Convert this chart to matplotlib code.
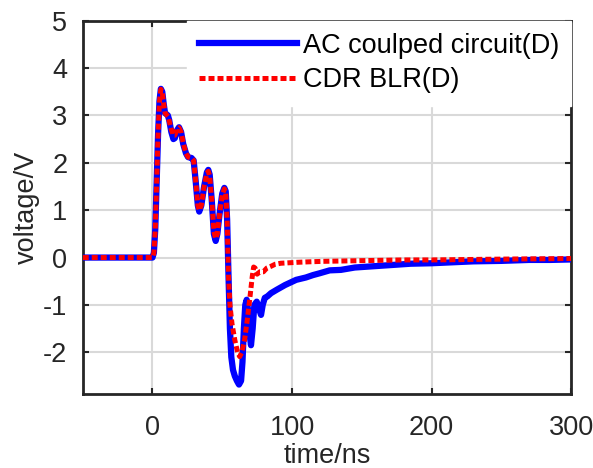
import numpy as np
import matplotlib
matplotlib.use('Agg')
import matplotlib.pyplot as plt

plt.rcParams['font.family'] = ['Liberation Sans', 'DejaVu Sans']
plt.rcParams['axes.unicode_minus'] = False

# AC coupled circuit (blue)
t_ac = [-50, 0, 1, 2, 3, 4, 5, 6, 7, 8, 9, 11, 12, 13.5, 15, 16, 17.5, 19, 20.5, 22,
        24, 25.5, 28, 29.5, 31, 32.5, 33.5, 35, 37, 39, 40, 41, 42.5, 44, 45.3, 46.5,
        48, 50, 51.5, 52.5, 53.5, 54.5, 55.5, 56.5, 57.7, 59, 60.5, 62, 63.5, 64.5,
        65.5, 66.5, 67.5, 68.5, 69.5, 70.6, 71.8, 73, 74.7, 76, 77.8, 79, 80.5, 82.3,
        85, 89, 95, 103, 110, 115, 120, 127, 135, 145, 155, 165, 175, 185, 200, 215,
        230, 250, 270, 285, 300]
v_ac = [0, 0, 0.1, 0.6, 1.6, 2.6, 3.3, 3.56, 3.5, 3.25, 3.05, 3.0, 2.9, 2.65, 2.5, 2.52,
        2.68, 2.75, 2.65, 2.4, 2.2, 2.12, 2.1, 2.05, 1.6, 1.1, 0.97, 1.1, 1.5, 1.8, 1.85,
        1.75, 1.2, 0.5, 0.35, 0.5, 0.9, 1.35, 1.47, 1.4, 0.8, -0.4, -1.5, -2.1, -2.37,
        -2.5, -2.6, -2.68, -2.6, -2.2, -1.5, -1.0, -0.89, -1.1, -1.6, -1.85, -1.5, -1.0,
        -0.93, -1.05, -1.21, -1.0, -0.85, -0.82, -0.75, -0.68, -0.58, -0.47, -0.42,
        -0.37, -0.33, -0.27, -0.26, -0.21, -0.19, -0.17, -0.15, -0.13, -0.12, -0.1,
        -0.08, -0.07, -0.05, -0.05, -0.04]

# CDR BLR (red)
t_cdr = [-50, 0, 1, 2, 3, 4, 5, 6, 7, 8, 9, 11, 12, 13.5, 15, 16, 17.5, 19, 20.5, 22,
         24, 25.5, 28, 29.5, 31, 32.5, 33.5, 35, 37, 39, 40, 41, 42.5, 44, 45.3, 46.5,
         48, 50, 51.5, 52.5, 53.5, 54.5, 55.5, 57, 59, 61, 62.5, 64, 66, 68, 70, 71.5,
         72.5, 73.5, 75, 77, 79.5, 82, 84.5, 88, 92, 98, 104, 112, 122, 140, 160, 180,
         200, 230, 260, 300]
v_cdr = [0, 0, 0.1, 0.6, 1.6, 2.6, 3.3, 3.55, 3.5, 3.25, 3.05, 2.98, 2.88, 2.7, 2.58,
         2.58, 2.7, 2.74, 2.65, 2.42, 2.2, 2.12, 2.1, 2.05, 1.6, 1.1, 1.0, 1.1, 1.5, 1.78,
         1.82, 1.72, 1.2, 0.55, 0.4, 0.5, 0.9, 1.32, 1.45, 1.38, 0.8, -0.4, -1.0, -1.4,
         -1.74, -2.0, -2.09, -2.0, -1.74, -1.3, -0.8, -0.4, -0.2, -0.22, -0.35, -0.3,
         -0.3, -0.22, -0.19, -0.14, -0.12, -0.11, -0.1, -0.09, -0.08, -0.07, -0.06,
         -0.05, -0.05, -0.04, -0.03, -0.02]

xticks = [0, 100, 200, 300]
yticks = [-2, -1, 0, 1, 2, 3, 4, 5]

fig = plt.figure(figsize=(5.93, 4.68), dpi=100)
ax = fig.add_axes([0.1395, 0.158, 0.8235, 0.798])

ax.plot(t_ac, v_ac, color='#0000ff', lw=4.5, label='AC coulped circuit(D)',
        solid_joinstyle='round', zorder=3)
ax.plot(t_cdr, v_cdr, color='#ff0000', lw=3.6, linestyle=(0, (1.2, 0.6)),
        label='CDR BLR(D)', zorder=4)

ax.set_xlim(-50, 300)
ax.set_ylim(-2.88, 5)
ax.set_xticks(xticks)
ax.set_yticks(yticks)
ax.grid(True, color='#d9d9d9', lw=1.5)
ax.set_axisbelow(True)

for s in ax.spines.values():
    s.set_color('#262626')
    s.set_linewidth(2)
ax.tick_params(direction='in', length=4, width=1.5, top=True, right=True,
               labelsize=19.5, colors='#262626')
ax.tick_params(axis='x', pad=15)
ax.tick_params(axis='y', pad=11)

ax.set_xlabel('time/ns', fontsize=19.5, color='#262626', labelpad=1.5)
ax.set_ylabel('voltage/V', fontsize=19.5, color='#262626', labelpad=2)

leg = ax.legend(loc='upper right', bbox_to_anchor=(1, 1), borderaxespad=0,
                fontsize=19.5, frameon=True, fancybox=False, handlelength=3.6,
                handletextpad=0.22, labelspacing=0.32, borderpad=0.45)
leg.get_frame().set_edgecolor('white')
leg.get_frame().set_alpha(1)

fig.savefig('out.png', dpi=100)
